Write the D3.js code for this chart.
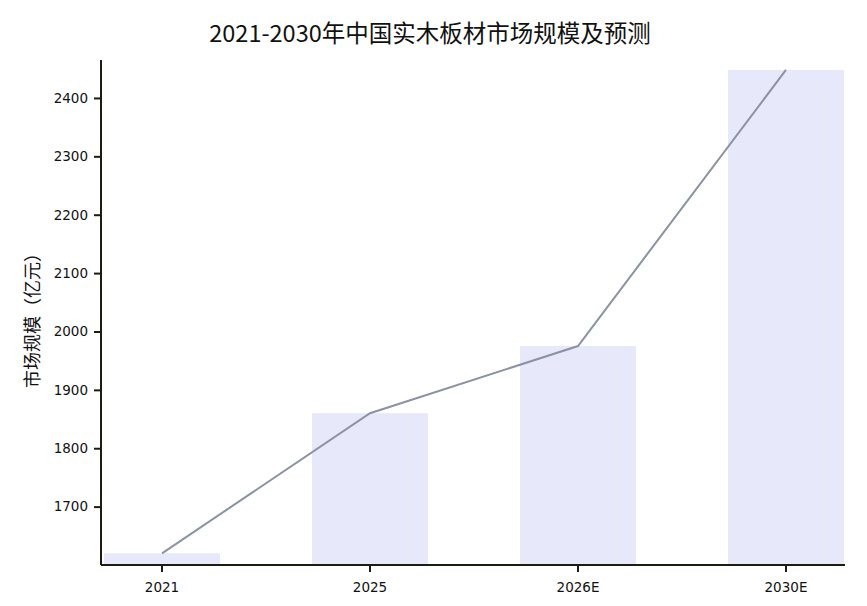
<!DOCTYPE html>
<html><head><meta charset="utf-8">
<script src="https://cdn.jsdelivr.net/npm/d3@7"></script>
<style>
html,body{margin:0;padding:0;background:#fff;}
text{font-family:"Noto Sans CJK SC","Noto Sans",sans-serif;}
</style></head>
<body><svg id="c" width="867" height="606"></svg>
<script>
const categories = ["2021","2025","2026E","2030E"];
const values = [1620, 1860, 1975, 2448];
const yTicks = [1700,1800,1900,2000,2100,2200,2300,2400];
const title = "2021-2030年中国实木板材市场规模及预测";
const yLabel = "市场规模（亿元）";

(function(){
const svg = d3.select("#c");
const mL = 101, mR = 845, mT = 60, mB = 565;
const x = d3.scaleBand().domain(categories).range([104, 844]).paddingInner(0.442).paddingOuter(0);
const y = d3.scaleLinear().domain([1600, 2465]).range([mB, mT]);

svg.selectAll("rect.bar").data(values).enter().append("rect")
  .attr("class","bar")
  .attr("x",(d,i)=>x(categories[i]))
  .attr("width",x.bandwidth())
  .attr("y",d=>y(d))
  .attr("height",d=>mB-y(d))
  .attr("fill","#e8e8fb");

const line = d3.line().x((d,i)=>x(categories[i])+x.bandwidth()/2).y(d=>y(d));
svg.append("path").datum(values).attr("d",line)
  .attr("fill","none").attr("stroke","#8a92a3").attr("stroke-width",2);

const tickFont = "'DejaVu Sans',Verdana,sans-serif";
const ya = svg.append("g").attr("transform",`translate(${mL},0)`)
  .call(d3.axisLeft(y).tickValues(yTicks).tickSize(7).tickPadding(6).tickFormat(d3.format("d")));
ya.select(".domain").attr("d",`M0,${mT}V${mB}`).attr("stroke","#1c1c10").attr("stroke-width",2);
ya.selectAll(".tick line").attr("stroke","#1c1c10").attr("stroke-width",2);
ya.selectAll(".tick text").attr("font-size",13.5).attr("fill","#111").style("font-family",tickFont);

const xa = svg.append("g").attr("transform",`translate(0,${mB})`)
  .call(d3.axisBottom(x).tickSize(7).tickPadding(10));
xa.select(".domain").attr("d",`M${mL},0H${mR}`).attr("stroke","#1c1c10").attr("stroke-width",2);
xa.selectAll(".tick line").attr("stroke","#1c1c10").attr("stroke-width",2);
xa.selectAll(".tick text").attr("font-size",13.5).attr("fill","#111").style("font-family",tickFont);

svg.append("text").attr("x",430).attr("y",42).attr("text-anchor","middle")
  .attr("font-size",23.5).attr("fill","#111").text(title);

svg.append("text").attr("transform","translate(39,316) rotate(-90)")
  .attr("text-anchor","middle").attr("font-size",18).attr("fill","#111").text(yLabel);
})();
</script></body></html>
